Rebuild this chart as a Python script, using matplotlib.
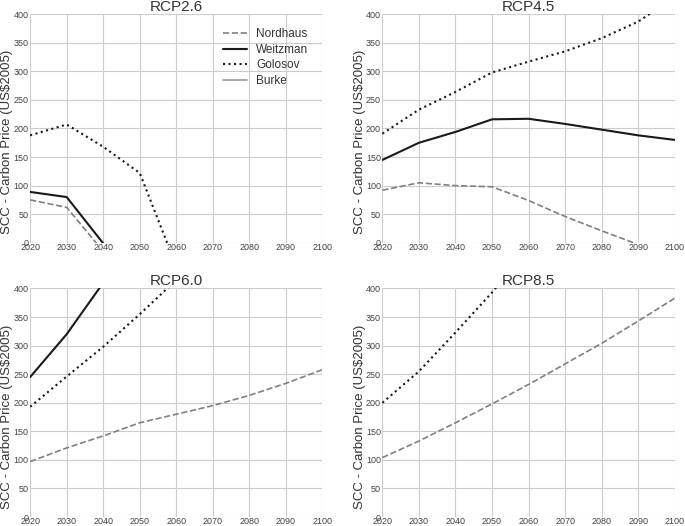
import matplotlib
matplotlib.use('Agg')
from matplotlib import pyplot as plt

plt.style.use('seaborn-v0_8-whitegrid')
plt.rcParams['font.family'] = ['Liberation Sans', 'DejaVu Sans']

years = [2020, 2030, 2040, 2050, 2060, 2070, 2080, 2090, 2100]
scenarios = ['RCP2.6', 'RCP4.5', 'RCP6.0', 'RCP8.5']

# values per scenario; anything outside 0-400 just gets clipped by the axes
nordhaus = {
    'RCP2.6': [75, 62, -15, -60, -100, -140, -180, -220, -260],
    'RCP4.5': [92, 105, 100, 98, 74, 46, 21, -3, -28],
    'RCP6.0': [97, 121, 142, 165, 180, 195, 213, 234, 258],
    'RCP8.5': [104, 133, 165, 198, 232, 268, 304, 343, 383],
}
weitzman = {
    'RCP2.6': [89, 80, -1, -60, -120, -180, -240, -300, -360],
    'RCP4.5': [145, 175, 194, 216, 217, 208, 198, 188, 180],
    'RCP6.0': [245, 320, 410, 500, 600, 700, 800, 900, 1000],
    'RCP8.5': [480, 560, 650, 750, 860, 980, 1100, 1230, 1370],
}
golosov = {
    'RCP2.6': [188, 207, 168, 122, -41, -120, -200, -280, -360],
    'RCP4.5': [191, 233, 264, 298, 317, 335, 358, 387, 430],
    'RCP6.0': [193, 246, 298, 355, 415, 480, 550, 620, 700],
    'RCP8.5': [200, 255, 323, 393, 470, 550, 640, 740, 850],
}
burke = {
    'RCP2.6': [900, 950, 1000, 1050, 1100, 1150, 1200, 1250, 1300],
    'RCP4.5': [1000, 1100, 1200, 1300, 1400, 1500, 1600, 1700, 1800],
    'RCP6.0': [1100, 1250, 1400, 1550, 1700, 1850, 2000, 2150, 2300],
    'RCP8.5': [1200, 1400, 1600, 1800, 2000, 2200, 2400, 2600, 2800],
}

fig, axes = plt.subplots(2, 2, figsize=(6.85, 5.26), dpi=100)
fig.subplots_adjust(left=0.044, right=0.985, bottom=0.017, top=0.973,
                    wspace=0.205, hspace=0.2)

for ax, sc in zip(axes.flat, scenarios):
    ax.plot(years, nordhaus[sc], color='#808080', ls='--', lw=1.2, label='Nordhaus')
    ax.plot(years, weitzman[sc], color='#1a1a1a', ls='-', lw=1.5, label='Weitzman')
    ax.plot(years, golosov[sc], color='#1a1a1a', ls=':', lw=1.5, label='Golosov')
    ax.plot(years, burke[sc], color='#999999', ls='-', lw=1.2, label='Burke')
    ax.set_xlim(2020, 2100)
    ax.set_ylim(0, 400)
    ax.set_xticks(years)
    ax.set_yticks(range(0, 401, 50))
    ax.tick_params(axis='x', labelsize=6.5, pad=0, colors='#444444')
    ax.tick_params(axis='y', labelsize=6.5, pad=1, colors='#444444')
    ax.set_title(sc, fontsize=11, pad=2, color='#333333')
    ax.set_ylabel('SCC - Carbon Price (US$2005)', fontsize=9.5, color='#333333')
    ax.yaxis.set_label_coords(-0.057, 0.44)
    for s in ax.spines.values():
        s.set_visible(False)

leg = axes[0, 0].legend(loc='upper right', fontsize=8.5, frameon=False,
                        handlelength=2.0, labelspacing=0.3, borderaxespad=0.8)
for t in leg.get_texts():
    t.set_color('#333333')

plt.savefig('out.png', dpi=100)
